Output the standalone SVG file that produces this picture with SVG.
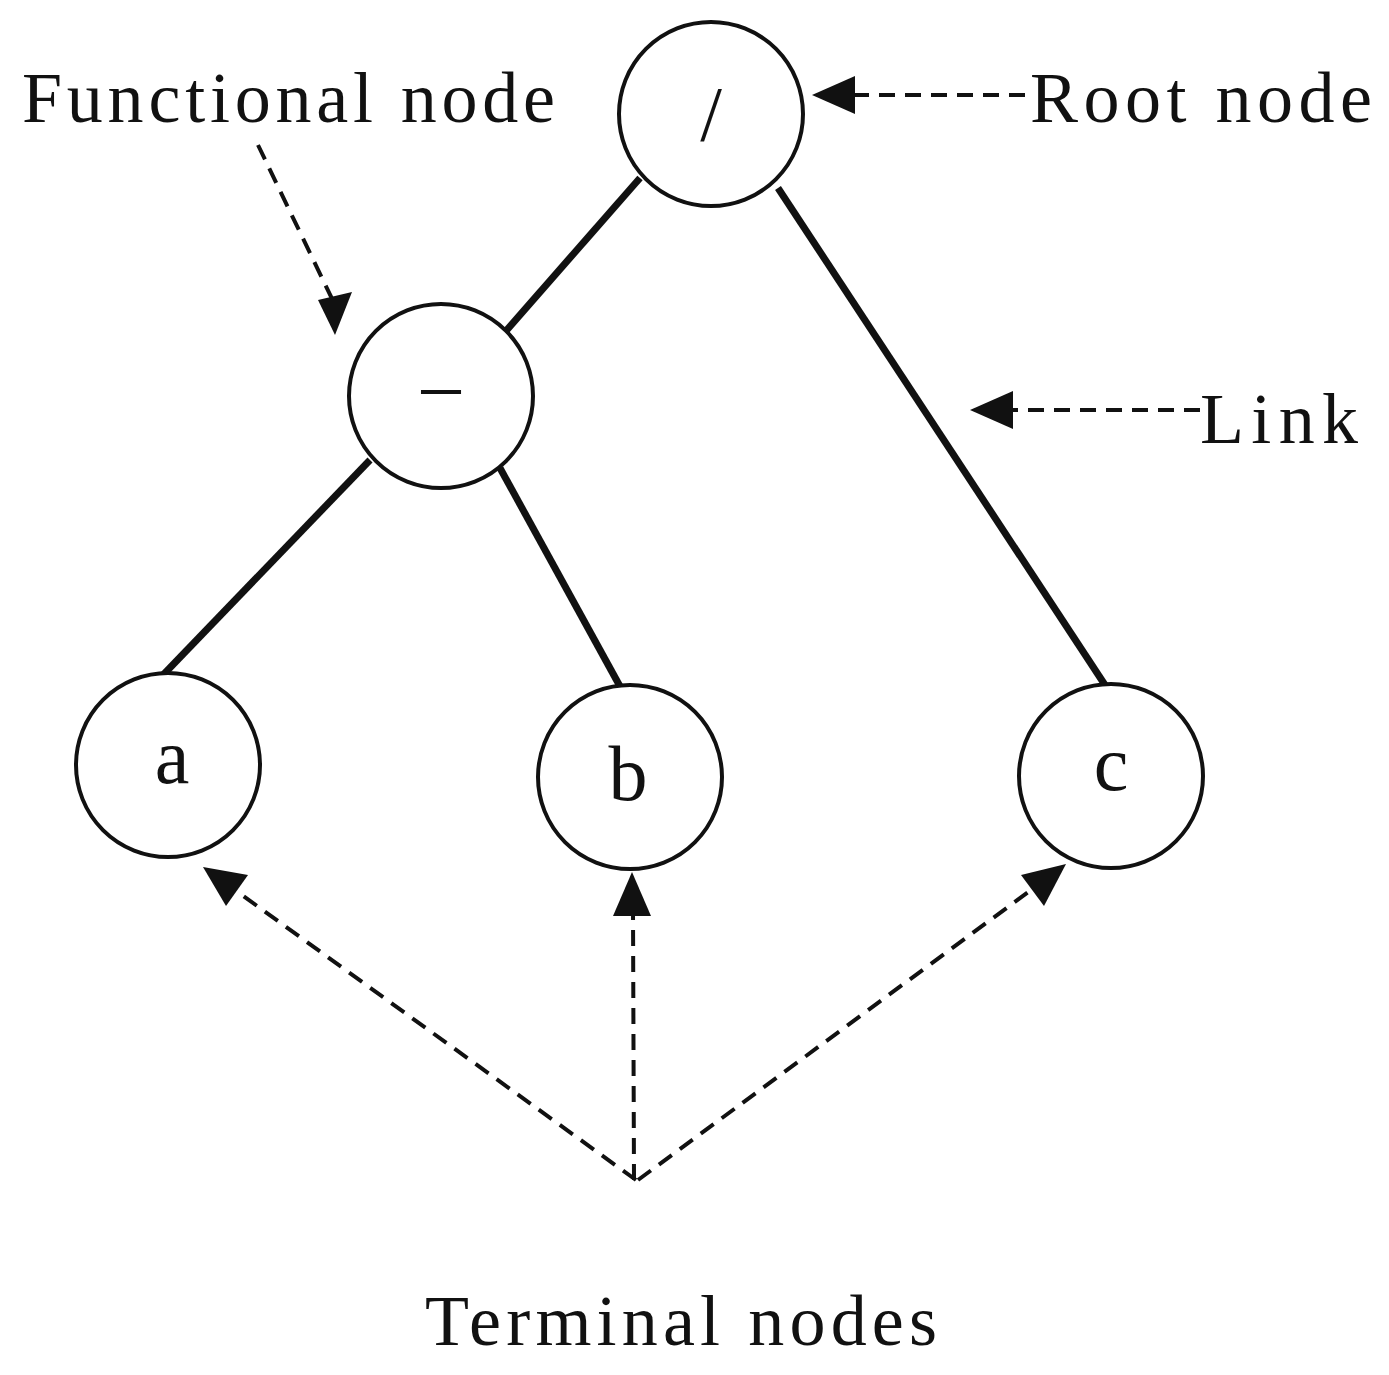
<svg xmlns="http://www.w3.org/2000/svg" width="1389" height="1375" viewBox="0 0 1389 1375">
<style>
text{font-family:"Liberation Serif",serif;fill:#111}
.lbl{font-size:72px}
.nt{font-size:78px;text-anchor:middle}
circle{fill:#fff;stroke:#111;stroke-width:4}
.link{stroke:#111;stroke-width:7;fill:none}
.dash{stroke:#111;stroke-width:4;stroke-dasharray:16 10;fill:none}
</style>
<defs><marker id="ah" viewBox="0 0 10 10" refX="10" refY="5" markerWidth="8" markerHeight="8" orient="auto" markerUnits="userSpaceOnUse" style="overflow:visible"><path d="M0,0 L10,5 L0,10 Z" fill="#111" transform="scale(4)"/></marker></defs>
<rect width="1389" height="1375" fill="#fff"/>
<g id="connectors">
<line class="link" x1="640" y1="178" x2="505" y2="332"/>
<line class="link" x1="778" y1="188" x2="1105" y2="685"/>
<line class="link" x1="370" y1="460" x2="163" y2="675"/>
<line class="link" x1="500" y1="468" x2="622" y2="690"/>
<path class="dash" d="M258,145 L335,305"/><path d="M335,335 L318,300 L352,292 Z" fill="#111" transform="translate(0,0)"/>
<path class="dash" d="M1025,95 L850,95"/><path d="M812,95 L855,76 L855,114 Z" fill="#111"/>
<path class="dash" d="M1200,410 L1010,410"/><path d="M970,410 L1013,391 L1013,429 Z" fill="#111"/>
<path class="dash" d="M636,1180 L235,890"/><path d="M203,867 L248,875 L226,906 Z" fill="#111"/>
<path class="dash" d="M634,1180 L633,910"/><path d="M632,872 L651,916 L613,916 Z" fill="#111"/>
<path class="dash" d="M638,1180 L1035,887"/><path d="M1066,864 L1044,906 L1021,875 Z" fill="#111"/>
</g>
<g id="root"><circle cx="711" cy="114" r="92"/><text class="nt" x="711" y="140">/</text></g>
<g id="minus"><circle cx="441" cy="396" r="92"/><text class="nt" x="441" y="410">–</text></g>
<g id="a"><circle cx="168" cy="765" r="92"/><text class="nt" x="172" y="783">a</text></g>
<g id="b"><circle cx="630" cy="777" r="92"/><text class="nt" x="628" y="800">b</text></g>
<g id="c"><circle cx="1111" cy="776" r="92"/><text class="nt" x="1111" y="790">c</text></g>
<g id="labels">
<text class="lbl" x="22" y="122" textLength="533">Functional node</text>
<text class="lbl" x="1030" y="122" textLength="342">Root node</text>
<text class="lbl" x="1200" y="443" textLength="158">Link</text>
<text class="lbl" x="425" y="1345" textLength="512">Terminal nodes</text>
</g>
</svg>
